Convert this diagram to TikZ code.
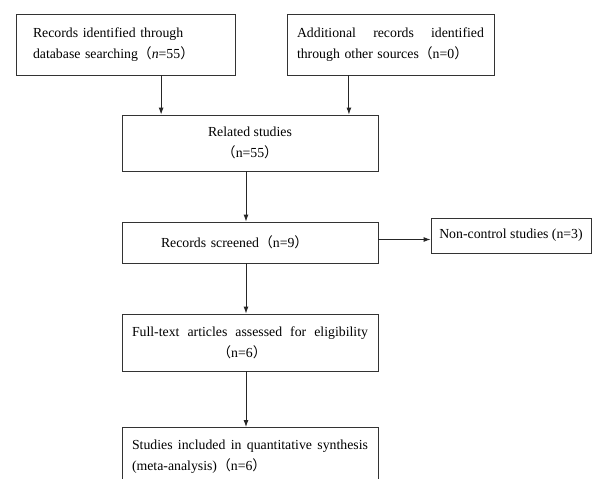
\documentclass[tikz,border=0pt]{standalone}
\usepackage{fontspec}
\setmainfont{Liberation Serif}
\newfontfamily\cjk{Noto Sans CJK SC}
\usetikzlibrary{arrows.meta,calc}
\newcommand{\lp}{{\cjk（}}
\newcommand{\rp}{{\cjk）}}
\begin{document}
\begin{tikzpicture}[x=1pt,y=-1pt,
  box/.style={draw=black!80, line width=0.9pt, inner sep=0pt, fill=white, font=\fontsize{13.8}{21}\selectfont},
  arr/.style={draw=black!85, line width=0.9pt, -{Latex[length=7pt,width=5pt]}}]
\clip (0,0) rectangle (595,479);
\fill[white] (0,0) rectangle (595,479);
\node[box, minimum width=219pt, minimum height=61pt, text width=185pt, align=left] (b1) at (125.5,44.5)
  {Records identified through\\database searching\lp\textit{n}=55\rp};
\node[box, minimum width=207pt, minimum height=61pt, text width=187pt, align=left] (b2) at (390.5,44.5)
  {\makebox[187pt][l]{Additional\hfill records\hfill identified}\\through other sources\lp n=0\rp};
\node[box, minimum width=256pt, minimum height=56pt, align=center] (b3) at (250,143)
  {Related studies\\\lp n=55\rp};
\node[box, minimum width=256pt, minimum height=41pt, text width=178pt, align=left] (b4) at (250,242.5)
  {Records screened\lp n=9\rp};
\node[box, minimum width=160pt, minimum height=35pt, align=center] (b5) at (511,235.5)
  {Non-control studies (n=3)};
\node[box, minimum width=256pt, minimum height=57pt, text width=236pt, align=center] (b6) at (250,342.5)
  {\makebox[236pt][l]{Full-text\hfill articles\hfill assessed\hfill for\hfill eligibility}\\\hspace*{-16pt}\lp n=6\rp};
\node[box, minimum width=256pt, minimum height=58pt, text width=236pt, align=left, anchor=north] (b7) at (250,427)
  {\makebox[236pt][l]{Studies\hfill included\hfill in\hfill quantitative\hfill synthesis}\\(meta-analysis)\lp n=6\rp};
\coordinate (p1) at ($(b1.south west)!0.662!(b1.south east)$);
\coordinate (p2) at ($(b2.south west)!0.30!(b2.south east)$);
\draw[arr] (p1) -- (p1 |- b3.north);
\draw[arr] (p2) -- (p2 |- b3.north);
\draw[arr] ([xshift=-4pt]b3.south) -- ([xshift=-4pt]b4.north);
\draw[arr] ([xshift=-4pt]b4.south) -- ([xshift=-4pt]b6.north);
\draw[arr] ([xshift=-4pt]b6.south) -- ([xshift=-4pt]b7.north);
\draw[arr] ([yshift=3pt]b4.east) -- ([yshift=3pt]b4.east -| b5.west);
\end{tikzpicture}
\end{document}
